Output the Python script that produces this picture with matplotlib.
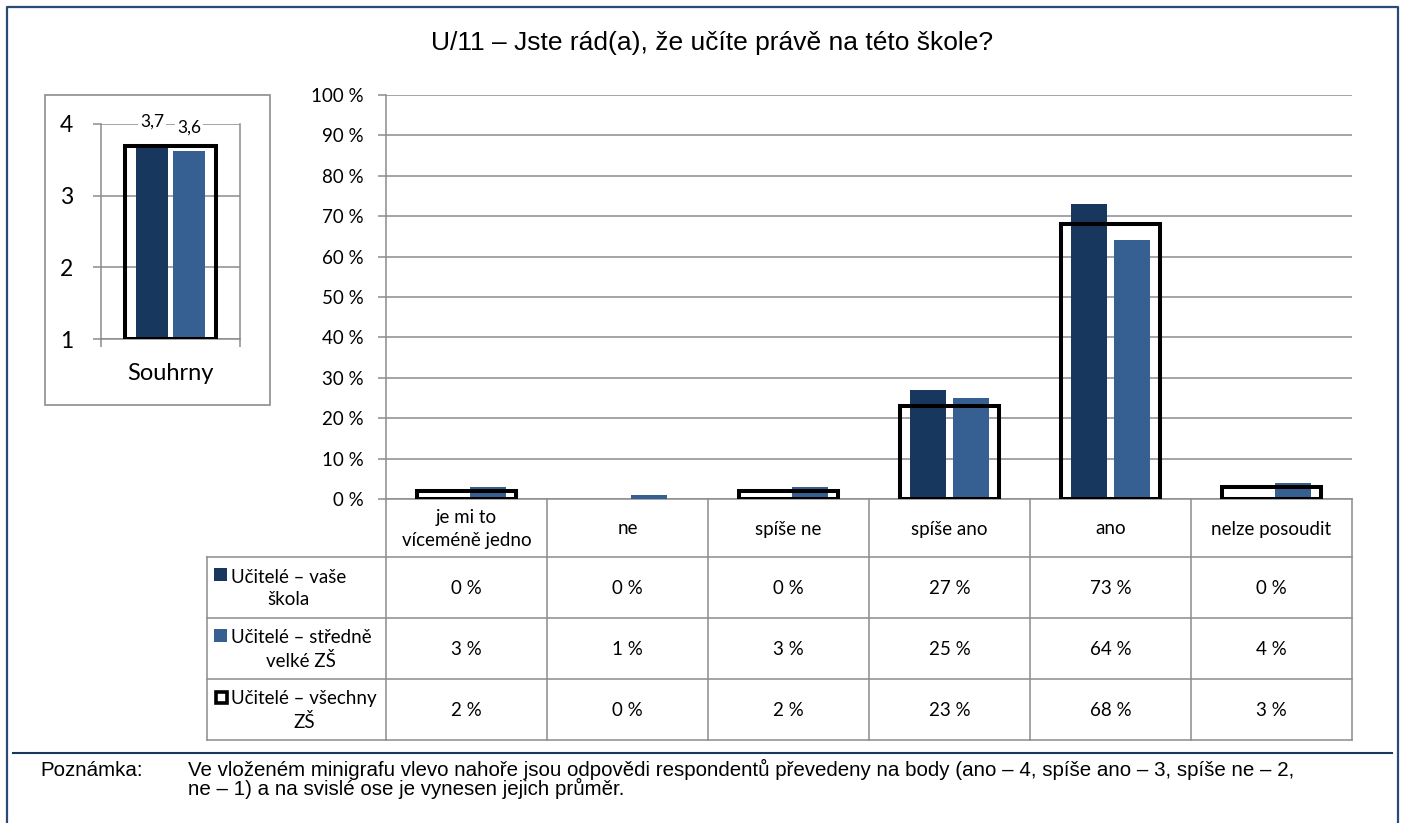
import numpy as np
import matplotlib
matplotlib.use('Agg')
import matplotlib.pyplot as plt
from matplotlib.patches import Rectangle

# data
kategorie = ['je mi to\nvíceméně jedno', 'ne', 'spíše ne', 'spíše ano', 'ano', 'nelze posoudit']
vase_skola = [0, 0, 0, 27, 73, 0]
stredne_velke = [3, 1, 3, 25, 64, 4]
vsechny = [2, 0, 2, 23, 68, 3]
serie = ['Učitelé – vaše\nškola', 'Učitelé – středně\nvelké ZŠ', 'Učitelé – všechny\nZŠ']
mini_hodnoty = [3.72, 3.63, 3.69]   # vaše škola, středně velké ZŠ, všechny ZŠ
mini_kategorie = 'Souhrny'
y_ticky = list(range(0, 101, 10))
mini_ticky = [1, 2, 3, 4]
titulek = 'U/11 – Jste rád(a), že učíte právě na této škole?'
poznamka = ('Ve vloženém minigrafu vlevo nahoře jsou odpovědi respondentů převedeny na body '
            '(ano – 4, spíše ano – 3, spíše ne – 2,\nne – 1) a na svislé ose je vynesen jejich průměr.')

TMAVA = '#17375E'
SVETLA = '#376092'
SEDA = '#8C8C8C'
FONT = ['Lato', 'DejaVu Sans']
ARIAL = ['Liberation Sans', 'DejaVu Sans']

W, H = 1401, 823
fig = plt.figure(figsize=(W / 100, H / 100), dpi=100)

def box(x0, y0, x1, y1):
    # pixel box -> figure fraction
    return [x0 / W, 1 - y1 / H, (x1 - x0) / W, (y1 - y0) / H]

# overlay in pixel coords for frame, table, texts
pix = fig.add_axes([0, 0, 1, 1], zorder=0)
pix.set_xlim(0, W)
pix.set_ylim(H, 0)
pix.axis('off')

# outer frame + separator
ram = '#2B4A78'
pix.plot([7, 7, 1398, 1398], [H, 7, 7, H], color=ram, lw=1.6, solid_capstyle='butt')
pix.plot([13, 1392], [753, 753], color=TMAVA, lw=1.5)

pix.text(712, 43, titulek, ha='center', va='center', fontsize=19, family=ARIAL)

pix.text(40, 770, 'Poznámka:', ha='left', va='center', fontsize=14.8, family=ARIAL)
pix.text(188, 779, poznamka, ha='left', va='center', fontsize=14.8, family=ARIAL, linespacing=0.88)

# main chart
ax_x0, ax_x1, ax_y0, ax_y1 = 386, 1352, 95, 499
ax = fig.add_axes(box(ax_x0, ax_y0, ax_x1, ax_y1), zorder=2)
ax.patch.set_alpha(0)
x = np.arange(len(kategorie))
sirka = 0.224
posun = 0.134
ax.bar(x - posun, vase_skola, sirka, color=TMAVA, zorder=3)
ax.bar(x + posun, stredne_velke, sirka, color=SVETLA, zorder=3)
hrany = ['black' if v > 0 else 'none' for v in vsechny]
ax.bar(x, vsechny, 0.615, facecolor='none', edgecolor=hrany, lw=2.9, zorder=4)
ax.set_xlim(-0.5, len(kategorie) - 0.5)
ax.set_ylim(0, 100)
ax.set_yticks(y_ticky)
ax.set_yticklabels([f'{t} %' for t in y_ticky], fontsize=13.5, family=FONT)
ax.tick_params(axis='y', length=6, width=1.1, color=SEDA, pad=10)
ax.set_xticks([])
ax.grid(axis='y', color=SEDA, lw=1.1, zorder=0)
for s in ['top', 'right']:
    ax.spines[s].set_visible(False)
for s in ['left', 'bottom']:
    ax.spines[s].set_color(SEDA)
    ax.spines[s].set_linewidth(1.1)

# data table under the chart
col_w = (ax_x1 - ax_x0) / len(kategorie)
radky = [499, 557, 618, 679, 740]
leva = 207
for k in range(len(kategorie) + 1):
    xx = ax_x0 + k * col_w
    pix.plot([xx, xx], [radky[0], radky[-1]], color=SEDA, lw=1.1)
pix.plot([leva, leva], [radky[1], radky[-1]], color=SEDA, lw=1.1)
for yy in radky[1:]:
    pix.plot([leva, ax_x1], [yy, yy], color=SEDA, lw=1.1)

for i, kat in enumerate(kategorie):
    cx = ax_x0 + (i + 0.5) * col_w
    pix.text(cx, (radky[0] + radky[1]) / 2 + 1, kat, ha='center', va='center',
             fontsize=13.5, family=FONT, linespacing=1.4)

tabulka = [vase_skola, stredne_velke, vsechny]
barvy = [TMAVA, SVETLA, None]
for r, (nazev, hodnoty, barva) in enumerate(zip(serie, tabulka, barvy)):
    y0, y1 = radky[r + 1], radky[r + 2]
    cy = (y0 + y1) / 2
    for i, v in enumerate(hodnoty):
        cx = ax_x0 + (i + 0.5) * col_w
        pix.text(cx, cy + 1, f'{v} %', ha='center', va='center', fontsize=13.5, family=FONT)
    # legend key
    if barva is not None:
        pix.add_patch(Rectangle((214, cy - 19.5), 13, 13, facecolor=barva, edgecolor='none'))
    else:
        pix.add_patch(Rectangle((215.5, cy - 18), 11, 11, facecolor='white',
                                edgecolor='black', lw=2.6))
    pix.text(231, cy + 1, nazev, ha='left', va='center', fontsize=13.5, family=FONT,
             multialignment='center', linespacing=1.4)

# mini chart
pix.add_patch(Rectangle((45, 95), 225, 310, facecolor='none', edgecolor=SEDA, lw=1.2))
mx = fig.add_axes(box(101, 124, 240, 339), zorder=2)
mx.patch.set_alpha(0)
mx.bar([-0.133], [mini_hodnoty[0] - 1], 0.23, bottom=1, color=TMAVA, zorder=3)
mx.bar([0.133], [mini_hodnoty[1] - 1], 0.23, bottom=1, color=SVETLA, zorder=3)
mx.bar([0], [mini_hodnoty[2] - 1], 0.65, bottom=1, facecolor='none', edgecolor='black',
       lw=2.9, zorder=4)
for xx, v in zip([-0.133, 0.133], mini_hodnoty[:2]):
    mx.annotate(f'{v:.1f}'.replace('.', ','), (xx, v), xytext=(0, 16.5), textcoords='offset points',
                ha='center', va='center', fontsize=12.5, family=FONT, zorder=5,
                bbox=dict(facecolor='white', edgecolor='none', pad=1.5))
mx.set_xlim(-0.5, 0.5)
mx.set_ylim(1, 4)
mx.set_yticks(mini_ticky)
mx.set_yticklabels([str(t) for t in mini_ticky], fontsize=16.5, family=FONT)
mx.tick_params(axis='y', length=6, width=1.1, color=SEDA, pad=14)
mx.set_xticks([-0.5, 0.5])
mx.set_xticklabels([])
mx.tick_params(axis='x', length=6, width=1.1, color=SEDA)
mx.grid(axis='y', color=SEDA, lw=1.1, zorder=0)
for s in ['left', 'right', 'bottom']:
    mx.spines[s].set_color(SEDA)
    mx.spines[s].set_linewidth(1.1)
mx.spines['top'].set_visible(False)
pix.text(170.5, 373, mini_kategorie, ha='center', va='center', fontsize=17, family=FONT)

fig.savefig('out.png', dpi=100)
